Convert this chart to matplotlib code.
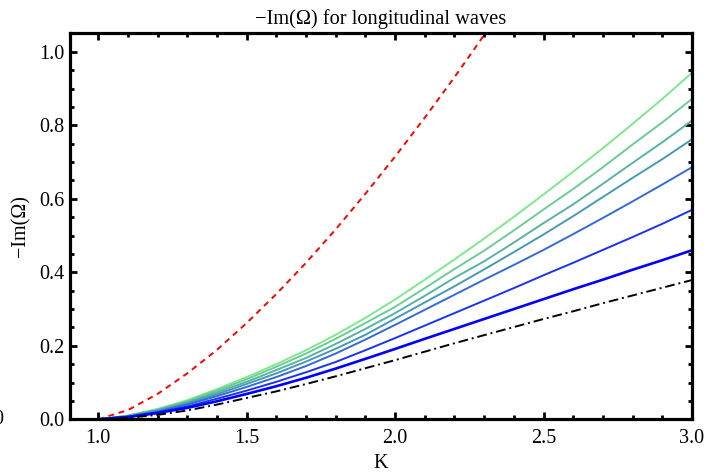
import numpy as np
from matplotlib import pyplot as plt
from matplotlib.ticker import MultipleLocator

# K grid (0.1 steps from 1.0 to 3.0)
K = [1.0, 1.1, 1.2, 1.3, 1.4, 1.5, 1.6, 1.7, 1.8, 1.9, 2.0,
     2.1, 2.2, 2.3, 2.4, 2.5, 2.6, 2.7, 2.8, 2.9, 3.0]

# -Im(Omega) curves, top (light green) to bottom (blue)
g1 = [0.0, 0.010, 0.028, 0.052, 0.082, 0.115, 0.150, 0.188, 0.230, 0.276, 0.326,
      0.380, 0.435, 0.492, 0.551, 0.612, 0.674, 0.738, 0.804, 0.872, 0.943]
g2 = [0.0, 0.0095, 0.027, 0.049, 0.078, 0.109, 0.143, 0.179, 0.219, 0.262, 0.306,
      0.357, 0.409, 0.459, 0.514, 0.571, 0.627, 0.686, 0.748, 0.808, 0.872]
g3 = [0.0, 0.009, 0.025, 0.046, 0.073, 0.102, 0.134, 0.167, 0.205, 0.246, 0.289,
      0.336, 0.385, 0.430, 0.481, 0.534, 0.585, 0.641, 0.698, 0.754, 0.813]
g4 = [0.0, 0.008, 0.023, 0.043, 0.068, 0.096, 0.125, 0.157, 0.192, 0.230, 0.274,
      0.318, 0.362, 0.408, 0.455, 0.503, 0.553, 0.605, 0.657, 0.708, 0.762]
g5 = [0.0, 0.0077, 0.021, 0.040, 0.063, 0.088, 0.115, 0.145, 0.179, 0.217, 0.257,
      0.298, 0.339, 0.380, 0.420, 0.461, 0.504, 0.548, 0.593, 0.639, 0.686]
g6 = [0.0, 0.0068, 0.019, 0.035, 0.056, 0.078, 0.102, 0.128, 0.156, 0.188, 0.221,
      0.255, 0.289, 0.323, 0.357, 0.392, 0.426, 0.461, 0.496, 0.532, 0.570]
g7 = [0.0, 0.006, 0.017, 0.031, 0.049, 0.069, 0.090, 0.113, 0.138, 0.1645, 0.1915,
      0.219, 0.246, 0.273, 0.300, 0.327, 0.354, 0.380, 0.407, 0.433, 0.460]
curves = [g1, g2, g3, g4, g5, g6, g7]
colors = ["#80E88C", "#6BCC96", "#58B3A0", "#4799B5", "#336BD9", "#1A33F0", "#0000FF"]

# black dash-dot lower bound
low = [0.0, 0.004, 0.012, 0.024, 0.040, 0.058, 0.076, 0.096, 0.117, 0.139, 0.161,
       0.184, 0.207, 0.229, 0.251, 0.273, 0.294, 0.316, 0.337, 0.358, 0.379]

# red dashed curve
K_red = [1.0, 1.1, 1.2, 1.3, 1.4, 1.5, 1.6, 1.7, 1.8, 1.9, 2.0, 2.1, 2.2, 2.3, 2.4]
red = [0.0, 0.025, 0.069, 0.125, 0.189, 0.262, 0.341, 0.426, 0.517, 0.614, 0.715,
       0.821, 0.931, 1.046, 1.165]

plt.rcParams['font.family'] = ['Liberation Serif', 'DejaVu Serif']
plt.rcParams['font.size'] = 14.5

fig = plt.figure(figsize=(7.24, 4.75), dpi=100)
ax = fig.add_axes([0.0967, 0.1173, 0.8591, 0.8122])

ax.plot(K_red, red, color="red", ls=(0, (3, 2.5)), lw=1.4)
for c, col in zip(curves, colors):
    ax.plot(K, c, color=col, lw=1.9 if col == "#0000FF" else 1.4)
ax.plot(K, low, color="black", ls=(0, (5, 2, 1, 2)), lw=1.4)

ax.set_xlim(0.905, 3.0)
ax.set_ylim(0.0, 1.05)
ax.xaxis.set_major_locator(MultipleLocator(0.5))
ax.xaxis.set_minor_locator(MultipleLocator(0.1))
ax.yaxis.set_major_locator(MultipleLocator(0.2))
ax.yaxis.set_minor_locator(MultipleLocator(0.05))
ax.tick_params(which="both", direction="in", top=True, right=True, width=2)
ax.tick_params(which="major", length=5)
ax.tick_params(which="minor", length=3)
ax.tick_params(axis="x", which="major", pad=7)
ax.tick_params(axis="y", which="major", pad=4)
for s in ax.spines.values():
    s.set_linewidth(2.3)

ax.set_xlabel("K", labelpad=4)
ax.set_ylabel("\u2212Im(\u03a9)", labelpad=6)
ax.set_title("\u2212Im(\u03a9) for longitudinal waves", fontsize=14.7, pad=7)

# clipped label remnant at the left edge
fig.text(-1.5 / 724, 1 - 419 / 475, "0", ha="center", va="center")

fig.savefig("out.png", dpi=100)
